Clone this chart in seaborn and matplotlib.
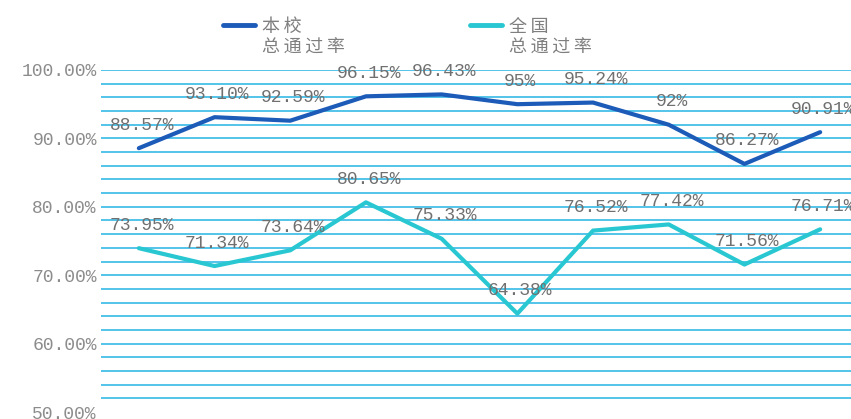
import matplotlib
matplotlib.use("Agg")
import matplotlib.pyplot as plt
import seaborn as sns
import pandas as pd
import numpy as np

# ---- data ----
categories = [str(i) for i in range(1, 11)]
school_rate = [88.57, 93.10, 92.59, 96.15, 96.43, 95.00, 95.24, 92.00, 86.27, 90.91]
school_labels = ["88.57%", "93.10%", "92.59%", "96.15%", "96.43%", "95%", "95.24%", "92%", "86.27%", "90.91%"]
national_rate = [73.95, 71.34, 73.64, 80.65, 75.33, 64.38, 76.52, 77.42, 71.56, 76.71]
national_labels = ["73.95%", "71.34%", "73.64%", "80.65%", "75.33%", "64.38%", "76.52%", "77.42%", "71.56%", "76.71%"]
series_names = ["本\u2009校\n总\u2009通\u2009过\u2009率", "全\u2009国\n总\u2009通\u2009过\u2009率"]
y_ticks = [50, 60, 70, 80, 90, 100]
y_tick_labels = ["50.00%", "60.00%", "70.00%", "80.00%", "90.00%", "100.00%"]

sns.set_style("white")
plt.rcParams['font.family'] = ['Noto Sans CJK SC', 'DejaVu Sans']

df = pd.DataFrame({
    "cat": categories * 2,
    "x": list(range(len(categories))) * 2,
    "rate": school_rate + national_rate,
    "series": [series_names[0]] * len(categories) + [series_names[1]] * len(categories),
})

colors = {series_names[0]: "#1C5BB8", series_names[1]: "#28C7D1"}

fig = plt.figure(figsize=(8.51, 4.19), dpi=100)
W, H = 851, 419
left_px, right_px, top_px, bot_px = 101, 858, 70, 412
ax = fig.add_axes([left_px / W, 1 - bot_px / H, (right_px - left_px) / W, (bot_px - top_px) / H])

# grid lines every 2%
for g in range(52, 101, 2):
    ax.axhline(g, color="#45BEE8", lw=1.3, zorder=0)

sns.lineplot(data=df, x="x", y="rate", hue="series", palette=colors, linewidth=3.0,
             ax=ax, legend=True, sort=False)

ax.set_xlim(-0.5, len(categories) - 0.5)
ax.set_ylim(50, 100)
ax.set_xticks([])
ax.set_yticks(y_ticks)
ax.set_yticklabels(y_tick_labels, family="Liberation Mono", fontsize=13, color="#8C8C8C")
ax.tick_params(axis="y", length=0, pad=3)
ax.set_xlabel("")
ax.set_ylabel("")
for s in ax.spines.values():
    s.set_visible(False)

for i, (v, lab) in enumerate(zip(school_rate, school_labels)):
    ax.annotate(lab, (i, v), xytext=(2, 16.5), textcoords="offset points",
                ha="center", va="center", family="Liberation Mono", fontsize=13,
                color="#707070", annotation_clip=False)
for i, (v, lab) in enumerate(zip(national_rate, national_labels)):
    ax.annotate(lab, (i, v), xytext=(2, 16.5), textcoords="offset points",
                ha="center", va="center", family="Liberation Mono", fontsize=13,
                color="#707070", annotation_clip=False)

handles, labels = ax.get_legend_handles_labels()
ax.get_legend().remove()
leg = fig.legend(handles, labels, loc="upper left", bbox_to_anchor=(223 / W, 1 - 18 / H),
                 ncol=2, frameon=False, fontsize=13, handlelength=1.78, handletextpad=0.39,
                 handleheight=1.0, columnspacing=6.9, borderpad=0, borderaxespad=0)
for t in leg.get_texts():
    t.set_color("#7F7F7F")
    t.set_linespacing(1.2)
for line in leg.get_lines():
    line.set_linewidth(3.5)
# align handles to top line of multi-line labels
for col in leg._legend_handle_box.get_children():
    for hp in col.get_children():
        hp.align = "top"

fig.savefig("out.png", dpi=100)
